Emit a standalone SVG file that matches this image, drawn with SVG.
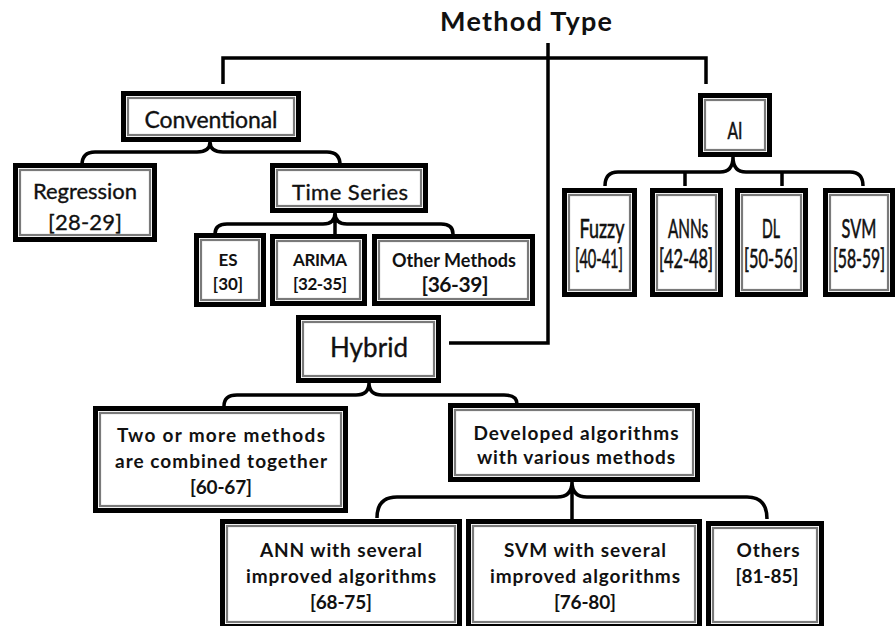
<svg xmlns="http://www.w3.org/2000/svg" width="896" height="626" viewBox="0 0 896 626">
<style>
  .o{fill:#fff;stroke:#000;stroke-width:5}
  .i{fill:none;stroke:#7a7a7a;stroke-width:2.2}
  .c{fill:none;stroke:#000;stroke-width:3.5}
  text{font-family:Lato,"Liberation Sans",sans-serif;fill:#111;text-anchor:middle}
  .r{font-size:22px;stroke:#111;stroke-width:0.35}
  .b{font-size:19px;font-weight:bold}
  .n{font-size:27px;stroke:#111;stroke-width:0.6}
</style>
<rect width="896" height="626" fill="#fff"/>
<text x="526" y="31" style="font-size:27px;font-weight:bold" textLength="172">Method Type</text>
<g id="connectors">
  <path class="c" d="M223,84 V58 H706 V84"/>
  <path class="c" d="M548,43 V343 H449"/>
  <path class="c" d="M82,165 Q82,152 95,152 H197 Q210,152 210,142 Q210,152 223,152 H327 Q340,152 340,165"/>
  <path class="c" d="M215,234 Q215,224 227,224 H323 Q335,224 335,213 Q335,224 347,224 H441 Q453,224 453,234 M335,213 V235"/>
  <path class="c" d="M605,186 Q605,172 618,172 H720 Q733,172 733,157 Q733,172 746,172 H850 Q863,172 863,186 M685,172 V186 M782,172 V186"/>
  <path class="c" d="M224,406 Q224,395 237,395 H356 Q369,395 369,383 Q369,395 382,395 H504 Q517,395 517,404"/>
  <path class="c" d="M377,518 Q377,497 397,497 H557 Q572,497 572,482 Q572,497 587,497 H747 Q767,497 767,519 M572,482 V520"/>
</g>
<g id="conventional"><rect class="o" x="123.5" y="93.5" width="175" height="46"/><rect class="i" x="128" y="98" width="166" height="37"/><text class="r" x="211" y="128" style="font-size:23px" textLength="133">Conventional</text></g>
<g id="ai"><rect class="o" x="700.5" y="95.5" width="69" height="59"/><rect class="i" x="705" y="100" width="60" height="50"/><text class="n" transform="translate(735,139) scale(0.6,1)" style="font-size:24px" textLength="25" lengthAdjust="spacingAndGlyphs">AI</text></g>
<g id="regression"><rect class="o" x="15.5" y="165.5" width="139" height="74"/><rect class="i" x="20" y="170" width="130" height="65"/><text class="r" x="85" y="199" textLength="104">Regression</text><text class="r" x="85" y="230" textLength="74">[28-29]</text></g>
<g id="timeseries"><rect class="o" x="272.5" y="165.5" width="153" height="45"/><rect class="i" x="277" y="170" width="144" height="36"/><text class="r" x="350" y="200" textLength="116">Time Series</text></g>
<g id="es"><rect class="o" x="196.5" y="235.5" width="67" height="69"/><rect class="i" x="201" y="240" width="58" height="60"/><text class="b" x="228" y="266" style="font-size:17px">ES</text><text class="b" x="228" y="290" style="font-size:17px">[30]</text></g>
<g id="arima"><rect class="o" x="272.5" y="236.5" width="92" height="67"/><rect class="i" x="277" y="241" width="83" height="58"/><text class="b" x="320" y="266" style="font-size:17px" textLength="54">ARIMA</text><text class="b" x="320" y="290" style="font-size:17px" textLength="54">[32-35]</text></g>
<g id="othermethods"><rect class="o" x="374.5" y="236.5" width="158" height="67"/><rect class="i" x="379" y="241" width="149" height="58"/><text class="b" x="454" y="267" style="font-size:18px" textLength="124">Other Methods</text><text class="b" x="455" y="292" style="font-size:21px" textLength="67">[36-39]</text></g>
<g id="fuzzy"><rect class="o" x="564.5" y="190.5" width="70" height="104"/><rect class="i" x="569" y="195" width="61" height="95"/><text class="n" transform="translate(602,238) scale(0.6,1)" textLength="75" lengthAdjust="spacingAndGlyphs">Fuzzy</text><text class="n" transform="translate(599,268) scale(0.6,1)" textLength="80" lengthAdjust="spacingAndGlyphs">[40-41]</text></g>
<g id="anns"><rect class="o" x="652.5" y="190.5" width="68" height="104"/><rect class="i" x="657" y="195" width="59" height="95"/><text class="n" transform="translate(688,238) scale(0.6,1)" textLength="67" lengthAdjust="spacingAndGlyphs">ANNs</text><text class="n" transform="translate(686,268) scale(0.6,1)" textLength="90" lengthAdjust="spacingAndGlyphs">[42-48]</text></g>
<g id="dl"><rect class="o" x="737.5" y="190.5" width="68" height="104"/><rect class="i" x="742" y="195" width="59" height="95"/><text class="n" transform="translate(771,238) scale(0.6,1)" textLength="30" lengthAdjust="spacingAndGlyphs">DL</text><text class="n" transform="translate(771,268) scale(0.6,1)" textLength="90" lengthAdjust="spacingAndGlyphs">[50-56]</text></g>
<g id="svm"><rect class="o" x="825.5" y="190.5" width="67" height="104"/><rect class="i" x="830" y="195" width="58" height="95"/><text class="n" transform="translate(859,238) scale(0.6,1)" textLength="58" lengthAdjust="spacingAndGlyphs">SVM</text><text class="n" transform="translate(859,268) scale(0.6,1)" textLength="87" lengthAdjust="spacingAndGlyphs">[58-59]</text></g>
<g id="hybrid"><rect class="o" x="298.5" y="317.5" width="140" height="63"/><rect class="i" x="303" y="322" width="131" height="54"/><text class="r" x="369" y="357" style="font-size:26px" textLength="78">Hybrid</text></g>
<g id="combined"><rect class="o" x="95.5" y="408.5" width="250" height="102"/><rect class="i" x="100" y="413" width="241" height="93"/><text class="b" x="221" y="442" textLength="208">Two or more methods</text><text class="b" x="221" y="468" textLength="212">are combined together</text><text class="b" x="221" y="494" textLength="62">[60-67]</text></g>
<g id="developed"><rect class="o" x="450.5" y="405.5" width="247" height="74"/><rect class="i" x="455" y="410" width="238" height="65"/><text class="b" x="576" y="440" textLength="205">Developed algorithms</text><text class="b" x="576" y="464" textLength="198">with various methods</text></g>
<g id="annimproved"><rect class="o" x="222.5" y="521.5" width="237" height="105"/><rect class="i" x="227" y="526" width="228" height="96"/><text class="b" x="341" y="557" textLength="162">ANN with several</text><text class="b" x="341" y="583" textLength="190">improved algorithms</text><text class="b" x="341" y="609" textLength="62">[68-75]</text></g>
<g id="svmimproved"><rect class="o" x="468.5" y="521.5" width="231" height="105"/><rect class="i" x="473" y="526" width="222" height="96"/><text class="b" x="585" y="557" textLength="162">SVM with several</text><text class="b" x="585" y="583" textLength="190">improved algorithms</text><text class="b" x="585" y="609" textLength="62">[76-80]</text></g>
<g id="others"><rect class="o" x="708.5" y="523.5" width="113" height="103"/><rect class="i" x="713" y="528" width="104" height="94"/><text class="b" x="768" y="557" textLength="63">Others</text><text class="b" x="767" y="583" textLength="63">[81-85]</text></g>
</svg>
